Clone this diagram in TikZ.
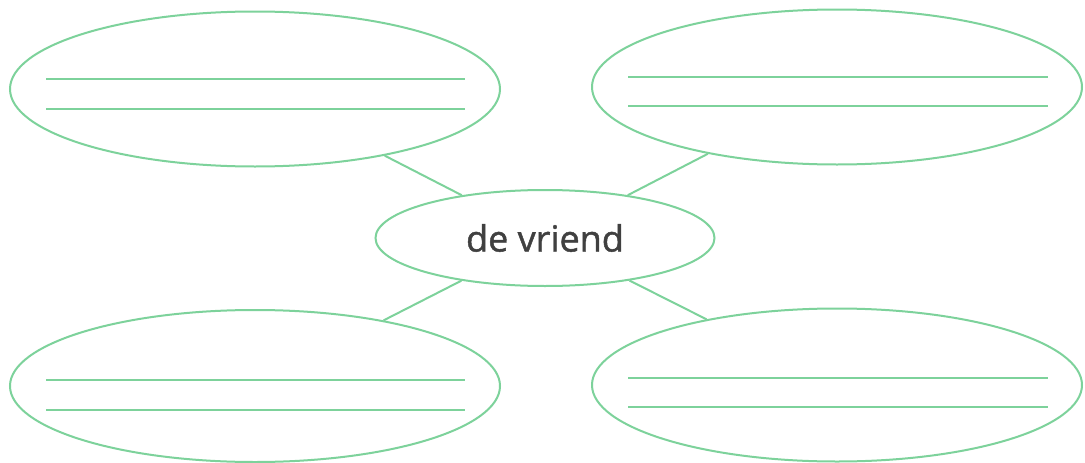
\documentclass[tikz,border=0pt]{standalone}
\usepackage{fontspec}
\setsansfont{Open Sans}
\usetikzlibrary{shapes.geometric}
\definecolor{mapgreen}{RGB}{125,210,155}
\definecolor{txtgray}{RGB}{64,64,64}
\tikzset{
  bubble/.style={draw=mapgreen, line width=2pt, ellipse, inner sep=0pt, fill=white},
  bigbubble/.style={bubble, minimum width=490pt, minimum height=155pt},
  writeline/.style={draw=mapgreen, line width=2.2pt},
  link/.style={draw=mapgreen, line width=2pt}
}
\begin{document}
\begin{tikzpicture}[x=1pt,y=-1pt]
\useasboundingbox (0,0) rectangle (1085,463);
\node[bubble, minimum width=339pt, minimum height=96pt, font=\sffamily\fontsize{36}{40}\selectfont\addfontfeature{FakeBold=1.3}, text=txtgray] (c) at (545,238) {de vriend};
\node[bigbubble] (tl) at (255,89) {};
\node[bigbubble] (tr) at (837,87) {};
\node[bigbubble, minimum height=152pt] (bl) at (255,386) {};
\node[bigbubble, minimum height=153pt] (br) at (837,385) {};
\draw[link] (c) -- (tl);
\draw[link] (c) -- (tr);
\draw[link] (c) -- (bl);
\draw[link] (c) -- (br);
\coordinate (tla) at (46,79); \coordinate (tlb) at (465,79);
\coordinate (tlc) at (46,109); \coordinate (tld) at (465,109);
\coordinate (tra) at (628,77); \coordinate (trb) at (1048,77);
\coordinate (trc) at (628,106); \coordinate (trd) at (1048,106);
\coordinate (bla) at (46,380); \coordinate (blb) at (465,380);
\coordinate (blc) at (46,410); \coordinate (bld) at (465,410);
\coordinate (bra) at (628,378); \coordinate (brb) at (1048,378);
\coordinate (brc) at (628,407); \coordinate (brd) at (1048,407);
\draw[writeline] (tla) -- (tlb); \draw[writeline] (tlc) -- (tld);
\draw[writeline] (tra) -- (trb); \draw[writeline] (trc) -- (trd);
\draw[writeline] (bla) -- (blb); \draw[writeline] (blc) -- (bld);
\draw[writeline] (bra) -- (brb); \draw[writeline] (brc) -- (brd);
\end{tikzpicture}
\end{document}
